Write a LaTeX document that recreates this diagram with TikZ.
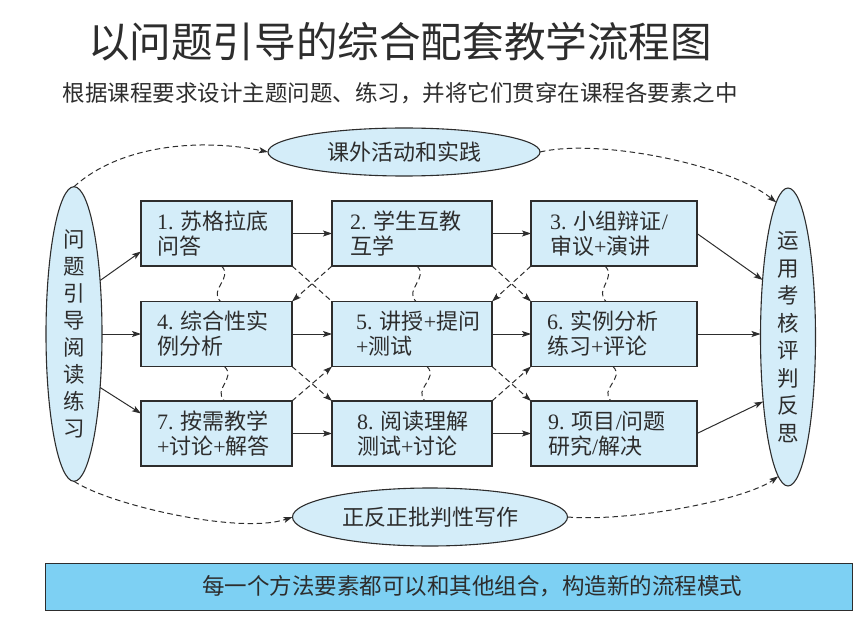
\documentclass[tikz,border=0pt]{standalone}
\usepackage{fontspec}
\setmainfont{Liberation Serif}
\newfontfamily\cjk{Noto Sans CJK SC}
\usetikzlibrary{arrows.meta,shapes.geometric}
\newcommand\zh[1]{{\cjk #1}}
\definecolor{boxfill}{RGB}{212,237,249}
\definecolor{barfill}{RGB}{125,208,243}
\definecolor{ink}{RGB}{45,45,45}
\begin{document}
\begin{tikzpicture}[x=1pt,y=1pt,
  every node/.style={inner sep=0pt, outer sep=0pt, text=ink},
  stepbox/.style={draw=ink, line width=1.1pt, fill=boxfill, rectangle, minimum height=65pt, align=left, font=\fontsize{22}{25}\selectfont},
  ell/.style={draw=ink, line width=1.1pt, fill=boxfill, ellipse, font=\cjk\fontsize{21.5}{25}\selectfont, align=center},
  conn/.style={draw=ink, line width=1pt, -{Stealth[length=9pt,width=6pt,inset=2pt]}},
  dconn/.style={conn, dash pattern=on 5.5pt off 3.5pt},
  dline/.style={draw=ink, line width=1pt, dash pattern=on 5.5pt off 3.5pt},
]
\useasboundingbox (0,0) rectangle (864,-620);

% titles
\node[font=\cjk\fontsize{41.6}{46}\selectfont] (title) at (400,-42) {以问题引导的综合配套教学流程图};
\node[font=\cjk\fontsize{22.5}{26}\selectfont] (sub) at (400,-93) {根据课程要求设计主题问题、练习，并将它们贯穿在课程各要素之中};

% side and top/bottom ellipses
\node[ell, minimum width=56pt, minimum height=281pt, font=\cjk\fontsize{21.5}{27}\selectfont] (L) at (74,-334) {问\\题\\引\\导\\阅\\读\\练\\习};
\node[ell, minimum width=55pt, minimum height=272pt, font=\cjk\fontsize{21.5}{27.5}\selectfont] (R) at (788,-337) {运\\用\\考\\核\\评\\判\\反\\思};
\node[ell, minimum width=272pt, minimum height=48pt, font=\cjk\fontsize{22}{26}\selectfont] (T) at (404,-152) {课外活动和实践};
\node[ell, minimum width=275pt, minimum height=58pt, font=\cjk\fontsize{22}{26}\selectfont] (B) at (430,-517) {正反正批判性写作};

% boxes
\node[stepbox, inner xsep=16pt, text width=119pt] (b1) at (216.5,-233.5) {1.~\zh{苏格拉底}\\\zh{问答}};
\node[stepbox, inner xsep=18pt, text width=124pt] (b2) at (412,-233.5) {2.~\zh{学生互教}\\\zh{互学}};
\node[stepbox, inner xsep=19pt, text width=128pt] (b3) at (614,-233.5) {3.~\zh{小组辩证}/\\\zh{审议}+\zh{演讲}};
\node[stepbox, inner xsep=16pt, text width=119pt] (b4) at (216.5,-334) {4.~\zh{综合性实}\\\zh{例分析}};
\node[stepbox, inner xsep=24pt, text width=112pt] (b5) at (412,-334) {5.~\zh{讲授}+\zh{提问}\\+\zh{测试}};
\node[stepbox, inner xsep=16pt, text width=134pt] (b6) at (614,-334) {6.~\zh{实例分析}\\\zh{练习}+\zh{评论}};
\node[stepbox, inner xsep=16pt, text width=119pt] (b7) at (216.5,-433.5) {7.~\zh{按需教学}\\+\zh{讨论}+\zh{解答}};
\node[stepbox, inner xsep=25pt, text width=110pt] (b8) at (412,-433.5) {8.~\zh{阅读理解}\\\zh{测试}+\zh{讨论}};
\node[stepbox, inner xsep=17pt, text width=132pt] (b9) at (614,-433.5) {9.~\zh{项目}/\zh{问题}\\\zh{研究}/\zh{解决}};

% bottom bar
\node[draw=ink, line width=1pt, fill=barfill, minimum width=807pt, minimum height=47pt, font=\cjk\fontsize{22.5}{26}\selectfont] (bar) at (448.5,-586.5) {\hspace*{47pt}每一个方法要素都可以和其他组合，构造新的流程模式};

% horizontal arrows
\draw[conn] (b1.east) -- (b2.west);
\draw[conn] (b2.east) -- (b3.west);
\draw[conn] (b4.east) -- (b5.west);
\draw[conn] (b5.east) -- (b6.west);
\draw[conn] (b7.east) -- (b8.west);
\draw[conn] (b8.east) -- (b9.west);

% from left ellipse
\draw[conn] (L.64) -- ([yshift=-18pt]b1.west);
\draw[conn] (L.east) -- (b4.west);
\draw[conn] (L.-64) -- ([yshift=20pt]b7.west);

% to right ellipse
\draw[conn] (b3.east) -- (R.114);
\draw[conn] (b6.east) -- (b6.east -| R.west);
\draw[conn] (b9.east) -- (R.-111);

% dashed crossings
\draw[dline] (b1.south east) -- (b5.north west);
\draw[dconn] (b2.south west) -- (b4.north east);
\draw[dconn] (b2.south east) -- (b6.north west);
\draw[dconn] (b3.south west) -- (b5.north east);
\draw[dconn] (b7.north east) -- (b5.south west);
\draw[dconn] (b4.south east) -- (b8.north west);
\draw[dconn] (b8.north east) -- (b6.south west);
\draw[dconn] (b5.south east) -- (b9.north west);

% wavy dashed links
\draw[dline] ([xshift=5pt]b1.south) .. controls +(12,-12) and +(-12,12) .. ([xshift=4pt]b4.north);
\draw[dline] ([xshift=5pt]b2.south) .. controls +(12,-12) and +(-12,12) .. ([xshift=4pt]b5.north);
\draw[dline] ([xshift=-9pt]b3.south) .. controls +(12,-12) and +(-12,12) .. ([xshift=-8pt]b6.north);
\draw[dline] ([xshift=8pt]b4.south) .. controls +(12,-12) and +(-12,12) .. ([xshift=8pt]b7.north);
\draw[dline] ([xshift=15pt]b5.south) .. controls +(12,-12) and +(-12,12) .. ([xshift=13pt]b8.north);
\draw[dline] ([xshift=-1pt]b6.south) .. controls +(12,-12) and +(-12,12) .. ([xshift=-3pt]b9.north);

% outer dashed curves
\draw[dconn] (L.north) .. controls (120,-145) and (200,-138) .. (T.west);
\draw[dconn] (T.east) .. controls (600,-138) and (730,-165) .. (R.95);
\draw[dconn] (L.south) .. controls (110,-505) and (240,-535) .. (B.west);
\draw[dconn] (B.east) .. controls (630,-522) and (745,-500) .. (R.-94);
\end{tikzpicture}
\end{document}
